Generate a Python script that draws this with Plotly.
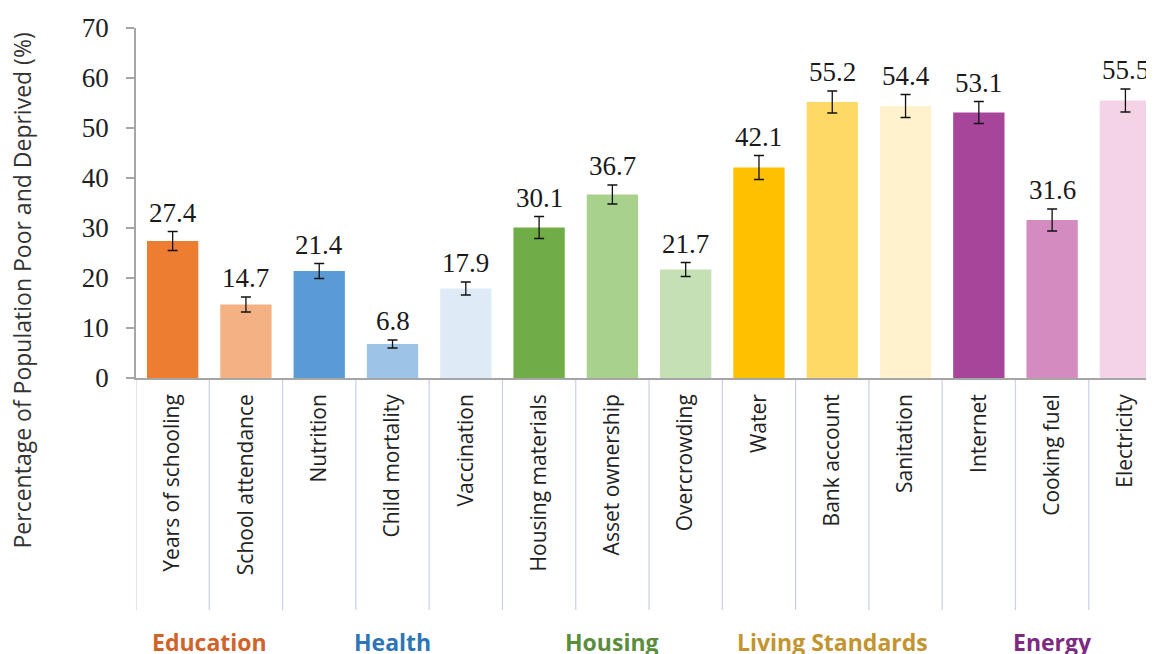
import plotly.graph_objects as go

categories = ["Years of schooling", "School attendance", "Nutrition", "Child mortality",
              "Vaccination", "Housing materials", "Asset ownership", "Overcrowding",
              "Water", "Bank account", "Sanitation", "Internet", "Cooking fuel", "Electricity"]
values = [27.4, 14.7, 21.4, 6.8, 17.9, 30.1, 36.7, 21.7, 42.1, 55.2, 54.4, 53.1, 31.6, 55.5]
errors = [1.9, 1.5, 1.5, 0.8, 1.3, 2.2, 1.9, 1.4, 2.4, 2.2, 2.3, 2.2, 2.2, 2.3]
bar_colors = ["#ED7D31", "#F4B183", "#5B9BD5", "#9DC3E6", "#DEEBF7", "#70AD47", "#A9D18E",
              "#C5E0B4", "#FFC000", "#FFD966", "#FFF2CC", "#A64599", "#D38BC0", "#F4D3E6"]
groups = ["Education", "Health", "Housing", "Living Standards", "Energy"]
group_pos = [0.5, 3, 6, 9, 12]
group_colors = ["#D0632A", "#2E75B6", "#5A8E3C", "#C29530", "#7B2C82"]
y_title = "Percentage of Population Poor and Deprived (%)"

x = list(range(len(categories)))

fig = go.Figure()
fig.add_trace(go.Bar(
    x=x, y=values, width=0.7,
    marker=dict(color=bar_colors, line=dict(width=0)),
    error_y=dict(type="data", array=errors, visible=True, color="#111111",
                 thickness=1.3, width=5),
    hoverinfo="y",
))

for xi, v, e in zip(x, values, errors):
    fig.add_annotation(x=xi, y=v + e, text=f"{v}", showarrow=False, yanchor="bottom",
                       yshift=2, font=dict(family="Liberation Serif", size=27, color="#1a1a1a"))

for i in range(len(categories) + 1):
    fig.add_shape(type="line", xref="x", yref="paper", x0=i - 0.5, x1=i - 0.5,
                  y0=0, y1=-0.663, line=dict(color="#C8D0EA", width=1.2), layer="below")

for g, p, c in zip(groups, group_pos, group_colors):
    fig.add_annotation(x=p, y=-0.755, xref="x", yref="paper", text=f"<b>{g}</b>",
                       showarrow=False, yanchor="middle",
                       font=dict(family="Open Sans", size=23, color=c))

fig.add_annotation(x=-0.112, y=0.25, xref="paper", yref="paper", text=y_title,
                   textangle=-90, showarrow=False, xanchor="center", yanchor="middle",
                   font=dict(family="Open Sans", size=23, color="#333333"))

fig.update_layout(
    width=1154, height=654,
    margin=dict(l=128, r=8, t=20, b=284),
    plot_bgcolor="white", paper_bgcolor="white",
    showlegend=False,
    bargap=0.3,
    xaxis=dict(
        tickmode="array", tickvals=x, ticktext=categories, tickangle=-90,
        range=[-0.5, 13.39], showgrid=False, zeroline=False, automargin=False,
        showline=True, linecolor="#A6A6A6", linewidth=1.5, ticks="",
        ticklabelstandoff=6,
        tickfont=dict(family="Open Sans", size=21, color="#222222"),
    ),
    yaxis=dict(
        range=[0, 70], tickvals=[0, 10, 20, 30, 40, 50, 60, 70],
        showgrid=False, zeroline=False, showline=True, linecolor="#A6A6A6", linewidth=1.5,
        ticks="outside", ticklen=8, tickcolor="#A6A6A6", tickwidth=1.5, automargin=False,
        ticklabelstandoff=12,
        tickfont=dict(family="Liberation Serif", size=27, color="#222222"),
    ),
)

fig.write_html("out.html")
